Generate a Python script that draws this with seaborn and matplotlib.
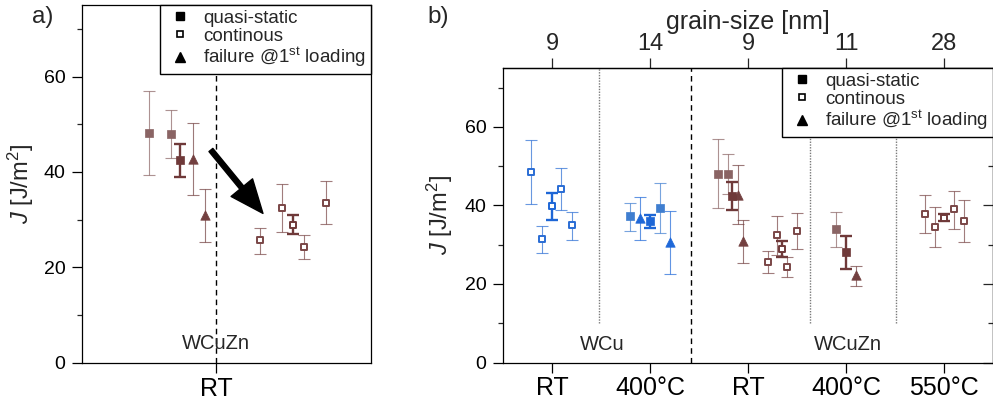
import numpy as np
import pandas as pd
import matplotlib
matplotlib.use("Agg")
import matplotlib.pyplot as plt
from matplotlib.lines import Line2D
from matplotlib.ticker import MultipleLocator, FixedLocator
import seaborn as sns

# ---------------- data ----------------
cond_labels = ["RT", "400°C", "RT", "400°C", "550°C"]
grain_sizes = ["9", "14", "9", "11", "28"]
cond_material = ["WCu", "WCu", "WCuZn", "WCuZn", "WCuZn"]

pt_cond = [0, 0, 0, 0, 0,
           1, 1, 1, 1, 1,
           2, 2, 2, 2, 2, 2, 2, 2, 2, 2,
           3, 3, 3,
           4, 4, 4, 4, 4]
pt_offset = [-0.21, -0.105, 0.0, 0.095, 0.20,
             -0.20, -0.10, 0.0, 0.10, 0.20,
             -0.305, -0.205, -0.164, -0.105, -0.05, 0.20, 0.30, 0.351, 0.401, 0.501,
             -0.105, 0.0, 0.10,
             -0.19, -0.09, 0.0, 0.10, 0.20]
pt_J = [48.4, 31.4, 39.8, 44.3, 34.9,
        37.2, 36.7, 36.0, 39.3, 30.8,
        48.1, 48.0, 42.4, 42.7, 31.0, 25.7, 32.4, 28.9, 24.2, 33.4,
        34.0, 28.1, 22.2,
        37.8, 34.6, 36.9, 39.0, 36.1]
pt_low = [40.3, 27.9, 36.3, 38.9, 31.2,
          33.6, 31.1, 34.3, 33.0, 22.5,
          39.4, 42.9, 38.9, 35.2, 25.4, 22.8, 27.3, 26.9, 21.7, 29.0,
          29.5, 23.8, 19.6,
          33.1, 29.3, 36.1, 34.1, 30.8]
pt_high = [56.7, 34.7, 43.1, 49.6, 38.4,
           40.7, 42.1, 37.6, 45.7, 38.6,
           56.9, 53.0, 45.9, 50.2, 36.4, 28.3, 37.4, 31.0, 26.8, 38.0,
           38.4, 32.3, 24.6,
           42.7, 39.7, 37.8, 43.8, 41.4]
pt_mode = ["continous"] * 5 + \
          ["quasi-static", "failure", "quasi-static", "quasi-static", "failure"] + \
          ["quasi-static", "quasi-static", "quasi-static", "failure", "failure"] + ["continous"] * 5 + \
          ["quasi-static", "quasi-static", "failure"] + \
          ["continous"] * 5
pt_mean = [False, False, True, False, False,
           False, False, True, False, False,
           False, False, True, False, False, False, False, True, False, False,
           False, True, False,
           False, False, True, False, False]

df = pd.DataFrame({
    "cond": pt_cond, "offset": pt_offset, "J": pt_J,
    "low": pt_low, "high": pt_high, "mode": pt_mode, "mean": pt_mean,
})
df["material"] = [cond_material[c] for c in df["cond"]]
df["xpos"] = df["cond"] + df["offset"]

# ---------------- style ----------------
sns.set_style("ticks")
plt.rcParams["font.family"] = ["Liberation Sans", "DejaVu Sans"]
plt.rcParams["mathtext.fontset"] = "custom"
plt.rcParams["mathtext.rm"] = "Liberation Sans"
plt.rcParams["mathtext.it"] = "Liberation Sans:italic"
plt.rcParams["mathtext.bf"] = "Liberation Sans:bold"
plt.rcParams["axes.linewidth"] = 0.9
plt.rcParams["axes.edgecolor"] = "black"

COLORS = {
    ("WCu", "quasi-static", False): "#3f7ed0",
    ("WCu", "quasi-static", True): "#1d66d6",
    ("WCu", "failure", False): "#1f68d8",
    ("WCu", "continous", False): "#2a6dd4",
    ("WCu", "continous", True): "#1d66d6",
    ("WCuZn", "quasi-static", False): "#8a6464",
    ("WCuZn", "quasi-static", True): "#6f3939",
    ("WCuZn", "failure", False): "#734040",
    ("WCuZn", "continous", False): "#7a4646",
    ("WCuZn", "continous", True): "#6f3939",
}
MARKERS = {"quasi-static": "s", "continous": "s", "failure": "^"}
SIZES = {"quasi-static": 28, "continous": 24, "failure": 46}


def draw_points(ax, data, xcol):
    for (mat, mode, mean), sub in data.groupby(["material", "mode", "mean"]):
        col = COLORS[(mat, mode, mean)]
        yerr = [sub["J"] - sub["low"], sub["high"] - sub["J"]]
        ax.errorbar(sub[xcol], sub["J"], yerr=yerr, fmt="none",
                    ecolor=col, alpha=1.0 if mean else 0.7,
                    elinewidth=1.7 if mean else 0.8,
                    capthick=1.7 if mean else 0.8,
                    capsize=4.2, zorder=2)
        face = "white" if mode == "continous" else col
        sns.scatterplot(data=sub, x=xcol, y="J", ax=ax, marker=MARKERS[mode],
                        s=SIZES[mode], color=col, facecolor=face, edgecolor=col,
                        linewidth=1.4 if mode == "continous" else 0.5,
                        zorder=3, legend=False)


def make_legend(ax):
    handles = [
        Line2D([], [], ls="none", marker="s", ms=6.2, mfc="black", mec="black"),
        Line2D([], [], ls="none", marker="s", ms=5.0, mfc="white", mec="black", mew=1.2),
        Line2D([], [], ls="none", marker="^", ms=7.0, mfc="black", mec="black"),
    ]
    labels = ["quasi-static", "continous", "failure @1$^{\\mathrm{st}}$ loading"]
    leg = ax.legend(handles, labels, loc="upper right", bbox_to_anchor=(1, 1),
                    borderaxespad=0, frameon=True, fancybox=False, framealpha=1,
                    edgecolor="black", fontsize=13.5, handlelength=1.6,
                    handletextpad=0.45, borderpad=0.25, labelspacing=0.05)
    leg.get_frame().set_linewidth(1.0)
    leg.set_zorder(10)
    return leg


def style_y(ax):
    ax.set_ylim(0, 75)
    ax.yaxis.set_major_locator(MultipleLocator(20))
    ax.yaxis.set_minor_locator(MultipleLocator(10))
    ax.tick_params(axis="y", which="major", direction="out", length=7, width=0.9,
                   labelsize=14, pad=5, colors="black")
    ax.tick_params(axis="y", which="minor", direction="out", length=3.5, width=0.9)
    ax.tick_params(axis="x", which="major", direction="out", length=7, width=0.9,
                   labelsize=18, pad=3, colors="black")
    ax.tick_params(axis="x", which="minor", bottom=False)
    for sp in ax.spines.values():
        sp.set_visible(True)
        sp.set_color("black")
    ax.set_ylabel("$J$ [J/m$^{2}$]", fontsize=17)
    ax.set_xlabel("")


fig = plt.figure(figsize=(9.93, 4.05), dpi=100)

# ---------------- panel a ----------------
ax1 = fig.add_axes([82 / 993, 42.3 / 405, 289 / 993, 357.7 / 405])
sub_a = df[(df["material"] == "WCuZn") & (df["cond"] == 2)]
ax1.axvline(0, color="black", lw=1.0, ls=(0, (4, 3)), zorder=1)
draw_points(ax1, sub_a, "offset")
ax1.set_xlim(-0.61, 0.706)
ax1.set_xticks([0])
ax1.set_xticklabels([cond_labels[2]])
style_y(ax1)
ax1.yaxis.set_label_coords(-0.160, 0.5)
ax1.text(0, 4.1, "WCuZn", ha="center", va="center", fontsize=14.5)
ax1.annotate("", xy=(0.214, 31.3), xytext=(-0.023, 44.6),
             arrowprops=dict(arrowstyle="simple,head_length=1.2,head_width=1.0,tail_width=0.18",
                             mutation_scale=20, color="black", shrinkA=0, shrinkB=0),
             zorder=4)
make_legend(ax1)

# ---------------- panel b ----------------
ax2 = fig.add_axes([503 / 993, 42.5 / 405, 490 / 993, 294.5 / 405])
ax2.axvline(1.42, color="black", lw=1.0, ls=(0, (4, 3)), zorder=1)
for xd in [0.48, 2.63, 3.51]:
    ax2.axvline(xd, ymin=10 / 75, ymax=1, color="#7a7a7a", lw=1.0, ls=(0, (1, 1)), zorder=1)
draw_points(ax2, df, "xpos")
ax2.set_xlim(-0.5, 4.5)
ax2.set_xticks(range(len(cond_labels)))
ax2.set_xticklabels(cond_labels)
style_y(ax2)
ax2.yaxis.set_label_coords(-0.098, 0.5)
ax2.text(0.51, 4.7, "WCu", ha="center", va="center", fontsize=14.5)
ax2.text(3.02, 4.7, "WCuZn", ha="center", va="center", fontsize=14.5)

top = ax2.secondary_xaxis("top")
top.set_xticks(range(len(grain_sizes)))
top.set_xticklabels(grain_sizes)
top.tick_params(direction="out", length=7, width=0.9, labelsize=17, pad=2)
top.set_xlabel("grain-size [nm]", fontsize=18, labelpad=3)

right = ax2.secondary_yaxis("right")
right.set_yticks([0, 20, 40])
right.yaxis.set_minor_locator(FixedLocator([10, 30, 50]))
right.tick_params(axis="y", which="major", direction="in", length=7, width=0.9, labelright=False)
right.tick_params(axis="y", which="minor", direction="in", length=3.5, width=0.9)
make_legend(ax2)

fig.text(43 / 993, 1 - 17 / 405, "a)", ha="center", va="center", fontsize=17.5)
fig.text(438 / 993, 1 - 17 / 405, "b)", ha="center", va="center", fontsize=17.5)

fig.savefig("out.png", dpi=100)
